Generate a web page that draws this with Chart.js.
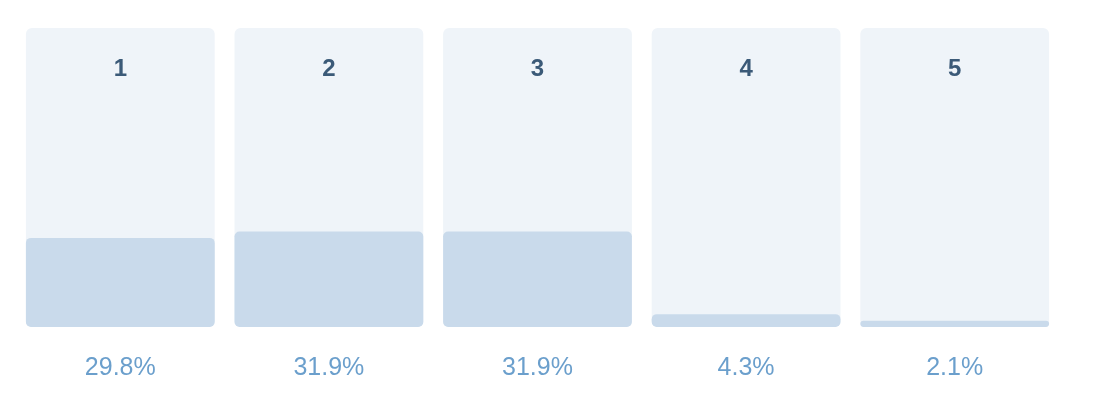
<!DOCTYPE html>
<html>
<head>
<meta charset="utf-8">
<script src="https://cdn.jsdelivr.net/npm/chart.js@4.4.0/dist/chart.umd.min.js"></script>
<style>
html,body{margin:0;padding:0;background:#fff;}
#wrap{width:1098px;height:416px;position:relative;}
</style>
</head>
<body>
<div id="wrap"><canvas id="c"></canvas></div>
<script>
const categories = ['1', '2', '3', '4', '5'];
const values = [29.8, 31.9, 31.9, 4.3, 2.1];
const fullValues = [100, 100, 100, 100, 100];
const percentLabels = values.map(v => v.toFixed(1) + '%');

const topLabels = {
  id: 'topLabels',
  afterDatasetsDraw(chart) {
    const ctx = chart.ctx;
    const xs = chart.scales.x;
    const ys = chart.scales.y;
    ctx.save();
    ctx.font = 'bold 24px "Liberation Sans", Arial, sans-serif';
    ctx.fillStyle = '#3b5a78';
    ctx.textAlign = 'center';
    ctx.textBaseline = 'middle';
    categories.forEach((c, i) => {
      ctx.fillText(c, xs.getPixelForValue(i), ys.getPixelForValue(100) + 41);
    });
    ctx.restore();
  }
};

new Chart(document.getElementById('c'), {
  type: 'bar',
  data: {
    labels: categories,
    datasets: [
      {
        data: values,
        backgroundColor: '#c9daeb',
        borderRadius: 5,
        borderSkipped: false,
        grouped: false,
        barPercentage: 0.905,
        categoryPercentage: 1,
        order: 0
      },
      {
        data: fullValues,
        backgroundColor: '#eff4f9',
        borderRadius: 6,
        borderSkipped: false,
        grouped: false,
        barPercentage: 0.905,
        categoryPercentage: 1,
        order: 1
      }
    ]
  },
  options: {
    responsive: true,
    maintainAspectRatio: false,
    animation: false,
    layout: { padding: { left: 16, right: 39, top: 28, bottom: 7 } },
    plugins: { legend: { display: false }, tooltip: { enabled: false } },
    scales: {
      x: {
        grid: { display: false, drawTicks: false },
        border: { display: false },
        ticks: {
          padding: 26,
          color: '#6b9fcc',
          font: { family: '"Liberation Sans", Arial, sans-serif', size: 25 },
          callback: (v, i) => percentLabels[i]
        }
      },
      y: { display: false, min: 0, max: 100 }
    }
  },
  plugins: [topLabels]
});
</script>
</body>
</html>
